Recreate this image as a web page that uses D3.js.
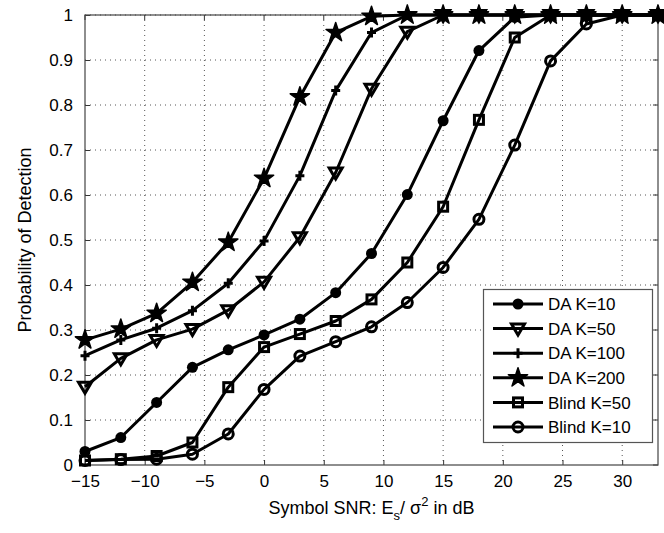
<!DOCTYPE html>
<html>
<head>
<meta charset="utf-8">
<script src="https://cdn.jsdelivr.net/npm/d3@7"></script>
<style>
  body { margin: 0; background: #fff; }
  svg { display: block; font-family: "Liberation Sans", Arial, sans-serif; }
</style>
</head>
<body>
<div id="chart"></div>
<script>
//Chart data
var snr = [-15, -12, -9, -6, -3, 0, 3, 6, 9, 12, 15, 18, 21, 24, 27, 30, 33];
var daK10 = [0.030, 0.061, 0.139, 0.217, 0.256, 0.289, 0.324, 0.383, 0.470, 0.601, 0.765, 0.921, 0.995, 1, 1, 1, 1];
var daK50 = [0.174, 0.237, 0.278, 0.302, 0.344, 0.407, 0.506, 0.650, 0.836, 0.963, 1, 1, 1, 1, 1, 1, 1];
var daK100 = [0.243, 0.278, 0.304, 0.343, 0.404, 0.498, 0.643, 0.832, 0.961, 1, 1, 1, 1, 1, 1, 1, 1];
var daK200 = [0.278, 0.302, 0.337, 0.406, 0.495, 0.637, 0.818, 0.961, 0.997, 1, 1, 1, 1, 1, 1, 1, 1];
var blindK50 = [0.010, 0.013, 0.020, 0.050, 0.173, 0.262, 0.291, 0.320, 0.368, 0.450, 0.574, 0.767, 0.950, 1, 1, 1, 1];
var blindK10 = [0.010, 0.012, 0.013, 0.024, 0.069, 0.168, 0.242, 0.274, 0.307, 0.361, 0.439, 0.546, 0.711, 0.898, 0.980, 1, 1];

var seriesNames = ["DA K=10", "DA K=50", "DA K=100", "DA K=200", "Blind K=50", "Blind K=10"];
var seriesValues = [daK10, daK50, daK100, daK200, blindK50, blindK10];
var seriesMarkers = ["dot", "triangle", "plus", "star", "square", "circle"];

var xTicks = [-15, -10, -5, 0, 5, 10, 15, 20, 25, 30];
var yTicks = [0, 0.1, 0.2, 0.3, 0.4, 0.5, 0.6, 0.7, 0.8, 0.9, 1];

//Layout
var width = 664, height = 533;
var plot = { left: 85, right: 658, top: 15, bottom: 465 };
var fontSize = 17;
var lineWidth = 3;

var svg = d3.select("#chart").append("svg")
    .attr("width", width)
    .attr("height", height);

var x = d3.scaleLinear().domain([-15, 33]).range([plot.left, plot.right]);
var y = d3.scaleLinear().domain([0, 1]).range([plot.bottom, plot.top]);

//Grid lines (dotted)
var grid = svg.append("g");
grid.selectAll(".gx").data(xTicks.slice(1)).enter().append("line")
    .attr("x1", d => x(d)).attr("x2", d => x(d))
    .attr("y1", plot.top).attr("y2", plot.bottom)
    .attr("stroke", "#555").attr("stroke-width", 1)
    .attr("stroke-dasharray", "1,4");
grid.selectAll(".gy").data(yTicks.slice(1)).enter().append("line")
    .attr("x1", plot.left).attr("x2", plot.right)
    .attr("y1", d => y(d)).attr("y2", d => y(d))
    .attr("stroke", "#555").attr("stroke-width", 1)
    .attr("stroke-dasharray", "1,4");

//Axes with inward ticks
var axisBottom = d3.axisBottom(x).tickValues(xTicks).tickSize(-5).tickPadding(10)
    .tickFormat(d => d < 0 ? "\u2212" + Math.abs(d) : d);
var axisLeft = d3.axisLeft(y).tickValues(yTicks).tickSize(-5).tickPadding(12)
    .tickFormat(d => d === 0 || d === 1 ? d : d3.format(".1f")(d));

var gx = svg.append("g")
    .attr("transform", `translate(0, ${plot.bottom})`)
    .call(axisBottom);
var gy = svg.append("g")
    .attr("transform", `translate(${plot.left}, 0)`)
    .call(axisLeft);

[gx, gy].forEach(function(g) {
    g.select(".domain").remove();
    g.selectAll("line").attr("stroke", "#333");
    g.selectAll("text")
        .attr("fill", "#000")
        .style("font-size", fontSize + "px")
        .style("font-family", "'Liberation Sans', Arial, sans-serif");
});

//Top and right ticks
svg.append("g").selectAll("line").data(xTicks).enter().append("line")
    .attr("x1", d => x(d)).attr("x2", d => x(d))
    .attr("y1", plot.top).attr("y2", plot.top + 5)
    .attr("stroke", "#333");
svg.append("g").selectAll("line").data(yTicks).enter().append("line")
    .attr("x1", plot.right - 5).attr("x2", plot.right)
    .attr("y1", d => y(d)).attr("y2", d => y(d))
    .attr("stroke", "#333");

//Box
svg.append("rect")
    .attr("x", plot.left).attr("y", plot.top)
    .attr("width", plot.right - plot.left).attr("height", plot.bottom - plot.top)
    .attr("fill", "none").attr("stroke", "#444").attr("stroke-width", 1.2);

//Marker drawing
function drawMarker(g, type, cx, cy) {
    var s = g.append("g").attr("transform", `translate(${cx}, ${cy})`);
    if (type === "dot") {
        s.append("circle").attr("r", 5.5).attr("fill", "#000");
    } else if (type === "circle") {
        s.append("circle").attr("r", 5).attr("fill", "none")
            .attr("stroke", "#000").attr("stroke-width", lineWidth);
    } else if (type === "square") {
        s.append("rect").attr("x", -4.5).attr("y", -4.5).attr("width", 9).attr("height", 9)
            .attr("fill", "none").attr("stroke", "#000").attr("stroke-width", lineWidth);
    } else if (type === "triangle") {
        s.append("path").attr("d", "M-6.5,-4.5L6.5,-4.5L0,6.5Z")
            .attr("fill", "none").attr("stroke", "#000").attr("stroke-width", lineWidth)
            .attr("stroke-linejoin", "miter");
    } else if (type === "plus") {
        s.append("path").attr("d", "M-4.5,0L4.5,0M0,-5L0,5")
            .attr("stroke", "#000").attr("stroke-width", lineWidth);
    } else if (type === "star") {
        s.append("path").attr("d", d3.symbol(d3.symbolStar, 115)())
            .attr("fill", "#000").attr("stroke", "#000").attr("stroke-width", 1.5)
            .attr("stroke-linejoin", "round");
    }
}

//Series lines and markers
var line = d3.line().x(d => x(d[0])).y(d => y(d[1]));
var plotArea = svg.append("g");
seriesValues.forEach(function(values, i) {
    var pts = snr.map((s, j) => [s, values[j]]);
    plotArea.append("path")
        .attr("d", line(pts))
        .attr("fill", "none").attr("stroke", "#000")
        .attr("stroke-width", lineWidth).attr("stroke-linejoin", "round");
    pts.forEach(function(p) {
        drawMarker(plotArea, seriesMarkers[i], x(p[0]), y(p[1]));
    });
});

//Legend
var legend = svg.append("g");
var lgBox = { x: 483.5, y: 289.5, w: 169, h: 153 };
legend.append("rect")
    .attr("x", lgBox.x).attr("y", lgBox.y)
    .attr("width", lgBox.w).attr("height", lgBox.h)
    .attr("fill", "#fff").attr("stroke", "#555").attr("stroke-width", 1.2);
seriesNames.forEach(function(name, i) {
    var ly = 304 + i * 24.6;
    legend.append("line")
        .attr("x1", 493).attr("x2", 543).attr("y1", ly).attr("y2", ly)
        .attr("stroke", "#000").attr("stroke-width", lineWidth);
    drawMarker(legend, seriesMarkers[i], 518, ly);
    legend.append("text")
        .attr("x", 548).attr("y", ly).attr("dy", "0.36em")
        .style("font-size", fontSize + "px")
        .text(name);
});

//Axis labels
var xLabel = svg.append("text")
    .attr("x", (plot.left + plot.right) / 2).attr("y", 514)
    .attr("text-anchor", "middle")
    .style("font-size", "18px");
xLabel.append("tspan").text("Symbol SNR: E");
xLabel.append("tspan").attr("dy", 6).style("font-size", "13px").text("s");
xLabel.append("tspan").attr("dy", -6).text("/ \u03C3");
xLabel.append("tspan").attr("dy", -8).style("font-size", "13px").text("2");
xLabel.append("tspan").attr("dy", 8).text(" in dB");

svg.append("text")
    .attr("transform", `translate(31, ${(plot.top + plot.bottom) / 2}) rotate(-90)`)
    .attr("text-anchor", "middle")
    .style("font-size", "18px")
    .text("Probability of Detection");
</script>
</body>
</html>
